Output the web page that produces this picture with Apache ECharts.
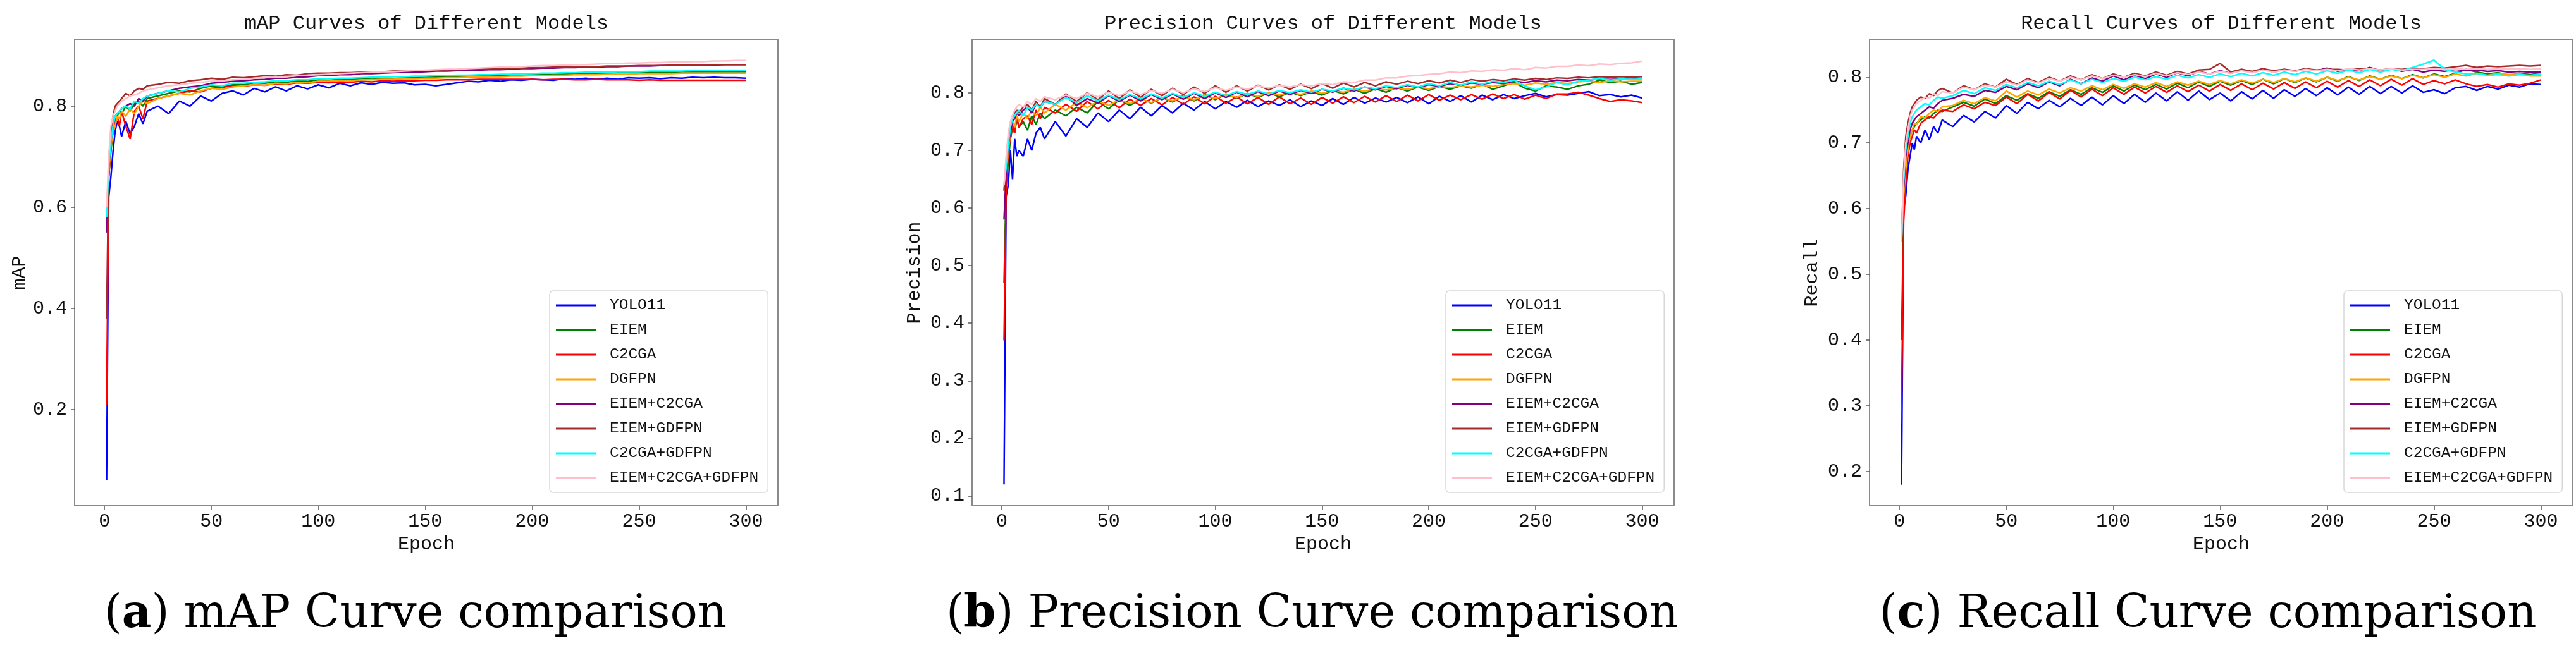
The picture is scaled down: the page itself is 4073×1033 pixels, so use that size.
<!DOCTYPE html>
<html>
<head>
<meta charset="utf-8">
<title>Curves of Different Models</title>
<script src="https://cdn.jsdelivr.net/npm/echarts@6/dist/echarts.min.js"></script>
<style>
    html, body { margin: 0; padding: 0; background: #fff; }
    #main { width: 4073px; height: 1033px; }
</style>
</head>
<body>
<div id="main"></div>
<script>
const epochs = [1, 2, 3, 4, 5, 6, 7, 8, 10, 12, 14, 16, 18, 20,
    25, 30, 35, 40, 45, 50, 55, 60, 65, 70, 75, 80, 85, 90, 95, 100,
    105, 110, 115, 120, 125, 130, 135, 140, 145, 150, 155, 160, 165, 170, 175, 180,
    185, 190, 195, 200, 205, 210, 215, 220, 225, 230, 235, 240, 245, 250, 255, 260,
    265, 270, 275, 280, 285, 290, 295, 300];

const modelNames = ['YOLO11', 'EIEM', 'C2CGA', 'DGFPN', 'EIEM+C2CGA', 'EIEM+GDFPN', 'C2CGA+GDFPN', 'EIEM+C2CGA+GDFPN'];
const modelColors = ['#0000ff', '#008000', '#ff0000', '#ffa500', '#800080', '#a52a2a', '#00ffff', '#ffc0cb'];

const xTicks = [0, 50, 100, 150, 200, 250, 300];
const mapTicks = [0.2, 0.4, 0.6, 0.8];
const precisionTicks = [0.1, 0.2, 0.3, 0.4, 0.5, 0.6, 0.7, 0.8];
const recallTicks = [0.2, 0.3, 0.4, 0.5, 0.6, 0.7, 0.8];

// ---- mAP ----
const mapYOLO11 = [0.06, 0.62, 0.66, 0.71, 0.75, 0.77, 0.76, 0.74, 0.77, 0.745, 0.76, 0.785, 0.765, 0.79,
    0.80, 0.785, 0.81, 0.80, 0.82, 0.81, 0.825, 0.83,
    0.822, 0.835, 0.828, 0.838, 0.83, 0.84, 0.834, 0.842,
    0.836, 0.845, 0.84, 0.846, 0.843, 0.847, 0.845, 0.846,
    0.842, 0.843, 0.840, 0.843, 0.846, 0.849, 0.848, 0.851,
    0.849, 0.852, 0.851, 0.853, 0.852, 0.851, 0.854, 0.853,
    0.855, 0.853, 0.855, 0.853, 0.856, 0.855, 0.856, 0.854,
    0.856, 0.855, 0.857, 0.856, 0.857, 0.856, 0.856, 0.855];
const mapEIEM = [0.56, 0.66, 0.71, 0.75, 0.77, 0.78, 0.79, 0.785, 0.80, 0.79, 0.805, 0.81, 0.80, 0.815,
    0.82, 0.825, 0.83, 0.828, 0.835, 0.84, 0.838, 0.843,
    0.842, 0.846, 0.845, 0.848, 0.847, 0.85, 0.849, 0.852,
    0.851, 0.853, 0.852, 0.854, 0.853, 0.855, 0.854, 0.856,
    0.856, 0.857, 0.857, 0.858, 0.858, 0.859, 0.859, 0.86,
    0.86, 0.861, 0.861, 0.862, 0.862, 0.863, 0.863, 0.864,
    0.864, 0.865, 0.865, 0.866, 0.866, 0.866, 0.867, 0.867,
    0.867, 0.868, 0.868, 0.868, 0.868, 0.868, 0.868, 0.868];
const mapC2CGA = [0.21, 0.66, 0.72, 0.75, 0.77, 0.78, 0.76, 0.79, 0.76, 0.735, 0.79, 0.80, 0.775, 0.81,
    0.815, 0.82, 0.825, 0.83, 0.828, 0.835, 0.837, 0.84,
    0.839, 0.842, 0.841, 0.844, 0.843, 0.846, 0.845, 0.847,
    0.846, 0.848, 0.847, 0.849, 0.848, 0.85, 0.849, 0.85,
    0.85, 0.851, 0.851, 0.852, 0.852, 0.852, 0.853, 0.853,
    0.853, 0.853, 0.853, 0.853, 0.852, 0.853, 0.853, 0.852,
    0.852, 0.853, 0.852, 0.852, 0.852, 0.851, 0.852, 0.851,
    0.851, 0.851, 0.851, 0.851, 0.851, 0.851, 0.851, 0.851];
const mapDGFPN = [0.57, 0.67, 0.72, 0.75, 0.76, 0.78, 0.775, 0.79, 0.78, 0.795, 0.785, 0.80, 0.81, 0.805,
    0.815, 0.82, 0.825, 0.822, 0.83, 0.835, 0.833, 0.838,
    0.84, 0.842, 0.841, 0.845, 0.844, 0.847, 0.846, 0.849,
    0.849, 0.851, 0.85, 0.852, 0.852, 0.853, 0.853, 0.854,
    0.854, 0.855, 0.855, 0.856, 0.856, 0.857, 0.857, 0.858,
    0.858, 0.859, 0.859, 0.86, 0.86, 0.861, 0.861, 0.862,
    0.862, 0.862, 0.863, 0.863, 0.863, 0.864, 0.864, 0.864,
    0.864, 0.865, 0.865, 0.865, 0.865, 0.865, 0.865, 0.865];
const mapEIEM_C2CGA = [0.55, 0.68, 0.73, 0.76, 0.78, 0.785, 0.79, 0.795, 0.80, 0.805, 0.80, 0.815, 0.81, 0.82,
    0.825, 0.83, 0.835, 0.838, 0.84, 0.845, 0.847, 0.849,
    0.85, 0.852, 0.853, 0.855, 0.855, 0.857, 0.858, 0.86,
    0.86, 0.862, 0.862, 0.864, 0.864, 0.865, 0.866, 0.867,
    0.867, 0.868, 0.869, 0.869, 0.87, 0.871, 0.871, 0.872,
    0.872, 0.873, 0.874, 0.874, 0.875, 0.875, 0.876, 0.876,
    0.877, 0.877, 0.878, 0.878, 0.879, 0.879, 0.879, 0.88,
    0.88, 0.88, 0.881, 0.881, 0.881, 0.882, 0.882, 0.882];
const mapEIEM_GDFPN = [0.38, 0.69, 0.75, 0.78, 0.80, 0.805, 0.81, 0.815, 0.825, 0.82, 0.83, 0.835, 0.833, 0.84,
    0.843, 0.847, 0.845, 0.85, 0.852, 0.855, 0.853, 0.857,
    0.856, 0.858, 0.86, 0.859, 0.862, 0.861, 0.864, 0.865,
    0.865, 0.866, 0.866, 0.867, 0.868, 0.868, 0.869, 0.869,
    0.87, 0.87, 0.871, 0.872, 0.872, 0.873, 0.873, 0.874,
    0.874, 0.875, 0.875, 0.876, 0.876, 0.877, 0.877, 0.878,
    0.878, 0.878, 0.879, 0.879, 0.879, 0.88, 0.88, 0.88,
    0.881, 0.881, 0.881, 0.881, 0.882, 0.882, 0.882, 0.882];
const mapC2CGA_GDFPN = [0.58, 0.68, 0.73, 0.76, 0.78, 0.785, 0.79, 0.795, 0.80, 0.795, 0.81, 0.805, 0.815, 0.82,
    0.825, 0.83, 0.828, 0.835, 0.838, 0.842, 0.84, 0.845,
    0.845, 0.847, 0.848, 0.85, 0.85, 0.852, 0.852, 0.854,
    0.854, 0.855, 0.855, 0.856, 0.857, 0.857, 0.858, 0.858,
    0.859, 0.859, 0.86, 0.86, 0.861, 0.861, 0.862, 0.862,
    0.863, 0.863, 0.864, 0.864, 0.865, 0.865, 0.866, 0.866,
    0.867, 0.867, 0.867, 0.868, 0.868, 0.868, 0.869, 0.869,
    0.869, 0.869, 0.87, 0.87, 0.87, 0.87, 0.87, 0.87];
const mapAll = [0.60, 0.70, 0.76, 0.78, 0.79, 0.80, 0.805, 0.81, 0.815, 0.82, 0.822, 0.825, 0.83, 0.832,
    0.836, 0.84, 0.842, 0.845, 0.847, 0.849, 0.85, 0.852,
    0.853, 0.855, 0.856, 0.857, 0.858, 0.86, 0.861, 0.862,
    0.863, 0.864, 0.865, 0.866, 0.867, 0.868, 0.868, 0.869,
    0.87, 0.871, 0.872, 0.873, 0.873, 0.874, 0.875, 0.876,
    0.877, 0.877, 0.878, 0.879, 0.88, 0.88, 0.881, 0.882,
    0.882, 0.883, 0.884, 0.884, 0.885, 0.885, 0.886, 0.886,
    0.887, 0.887, 0.888, 0.888, 0.889, 0.889, 0.89, 0.89];

// ---- Precision ----
const precYOLO11 = [0.12, 0.62, 0.64, 0.70, 0.65, 0.72, 0.69, 0.70, 0.69, 0.72, 0.70, 0.73, 0.74, 0.72,
    0.75, 0.725, 0.755, 0.74, 0.765, 0.75, 0.77, 0.755,
    0.775, 0.76, 0.778, 0.765, 0.782, 0.77, 0.785, 0.772,
    0.785, 0.775, 0.787, 0.776, 0.786, 0.778, 0.788, 0.776,
    0.786, 0.778, 0.79, 0.78, 0.792, 0.782, 0.791, 0.784,
    0.792, 0.783, 0.793, 0.781, 0.794, 0.785, 0.795, 0.784,
    0.796, 0.788, 0.797, 0.79, 0.795, 0.799, 0.793, 0.797,
    0.796, 0.799, 0.802, 0.795, 0.797, 0.793, 0.796, 0.791];
const precEIEM = [0.47, 0.64, 0.68, 0.72, 0.74, 0.73, 0.755, 0.74, 0.75, 0.735, 0.76, 0.745, 0.765, 0.755,
    0.77, 0.76, 0.775, 0.765, 0.785, 0.772, 0.788, 0.778,
    0.79, 0.782, 0.792, 0.784, 0.795, 0.786, 0.797, 0.788,
    0.798, 0.79, 0.799, 0.792, 0.8, 0.793, 0.801, 0.795,
    0.802, 0.796, 0.804, 0.798, 0.806, 0.799, 0.807, 0.801,
    0.809, 0.803, 0.81, 0.804, 0.811, 0.806, 0.812, 0.808,
    0.815, 0.806, 0.812, 0.818, 0.808, 0.803, 0.812, 0.81,
    0.806, 0.812, 0.815, 0.822, 0.818, 0.82, 0.815, 0.818];
const precC2CGA = [0.37, 0.63, 0.70, 0.72, 0.745, 0.73, 0.76, 0.74, 0.755, 0.76, 0.745, 0.77, 0.755, 0.775,
    0.765, 0.78, 0.768, 0.785, 0.772, 0.787, 0.774, 0.789,
    0.778, 0.79, 0.779, 0.792, 0.78, 0.793, 0.781, 0.794,
    0.782, 0.793, 0.781, 0.792, 0.78, 0.793, 0.781, 0.791,
    0.78, 0.792, 0.782, 0.793, 0.783, 0.794, 0.784, 0.795,
    0.785, 0.796, 0.786, 0.797, 0.787, 0.796, 0.788, 0.797,
    0.789, 0.798, 0.79, 0.797, 0.789, 0.796, 0.79, 0.798,
    0.798, 0.801, 0.796, 0.79, 0.785, 0.788, 0.786, 0.783];
const precDGFPN = [0.63, 0.66, 0.70, 0.73, 0.75, 0.74, 0.76, 0.75, 0.765, 0.755, 0.77, 0.76, 0.775, 0.765,
    0.78, 0.77, 0.783, 0.774, 0.786, 0.778, 0.788, 0.781,
    0.79, 0.783, 0.792, 0.786, 0.794, 0.788, 0.796, 0.79,
    0.797, 0.792, 0.799, 0.794, 0.8, 0.796, 0.801, 0.797,
    0.803, 0.799, 0.804, 0.801, 0.806, 0.803, 0.807, 0.805,
    0.808, 0.806, 0.81, 0.807, 0.811, 0.809, 0.812, 0.81,
    0.813, 0.811, 0.814, 0.816, 0.813, 0.817, 0.815, 0.818,
    0.816, 0.819, 0.82, 0.818, 0.821, 0.819, 0.82, 0.82];
const precEIEM_C2CGA = [0.58, 0.66, 0.71, 0.73, 0.75, 0.755, 0.765, 0.76, 0.77, 0.775, 0.765, 0.78, 0.775, 0.785,
    0.78, 0.795, 0.778, 0.79, 0.782, 0.795, 0.785, 0.796,
    0.786, 0.797, 0.788, 0.798, 0.789, 0.799, 0.79, 0.8,
    0.792, 0.801, 0.793, 0.802, 0.795, 0.803, 0.797, 0.804,
    0.799, 0.806, 0.801, 0.808, 0.803, 0.81, 0.805, 0.811,
    0.807, 0.813, 0.809, 0.814, 0.811, 0.816, 0.813, 0.817,
    0.815, 0.818, 0.816, 0.82, 0.818, 0.821, 0.819, 0.822,
    0.821, 0.823, 0.822, 0.824, 0.823, 0.824, 0.823, 0.825];
const precEIEM_GDFPN = [0.63, 0.68, 0.72, 0.745, 0.76, 0.765, 0.77, 0.765, 0.775, 0.78, 0.77, 0.785, 0.775, 0.79,
    0.78, 0.798, 0.785, 0.8, 0.788, 0.803, 0.79, 0.805,
    0.792, 0.806, 0.795, 0.808, 0.797, 0.81, 0.799, 0.812,
    0.801, 0.812, 0.803, 0.813, 0.805, 0.814, 0.806, 0.815,
    0.807, 0.816, 0.808, 0.817, 0.81, 0.818, 0.812, 0.819,
    0.815, 0.82, 0.816, 0.821, 0.817, 0.822, 0.818, 0.823,
    0.82, 0.823, 0.821, 0.824, 0.822, 0.825, 0.823, 0.826,
    0.825, 0.827, 0.826, 0.828, 0.827, 0.828, 0.827, 0.828];
const precC2CGA_GDFPN = [0.64, 0.67, 0.71, 0.74, 0.755, 0.76, 0.765, 0.77, 0.76, 0.775, 0.77, 0.78, 0.775, 0.785,
    0.78, 0.792, 0.783, 0.795, 0.786, 0.796, 0.788, 0.797,
    0.79, 0.798, 0.791, 0.799, 0.792, 0.8, 0.794, 0.801,
    0.795, 0.802, 0.797, 0.803, 0.798, 0.804, 0.8, 0.805,
    0.801, 0.806, 0.803, 0.808, 0.805, 0.81, 0.807, 0.812,
    0.809, 0.814, 0.81, 0.816, 0.812, 0.818, 0.813, 0.819,
    0.815, 0.82, 0.818, 0.822, 0.812, 0.805, 0.81, 0.818,
    0.814, 0.82, 0.822, 0.825, 0.822, 0.824, 0.823, 0.824];
const precAll = [0.64, 0.69, 0.73, 0.75, 0.76, 0.77, 0.775, 0.78, 0.775, 0.785, 0.78, 0.79, 0.785, 0.793,
    0.788, 0.796, 0.79, 0.799, 0.793, 0.801, 0.795, 0.803,
    0.797, 0.804, 0.799, 0.806, 0.8, 0.807, 0.802, 0.809,
    0.804, 0.81, 0.806, 0.812, 0.808, 0.813, 0.81, 0.814,
    0.812, 0.816, 0.814, 0.819, 0.818, 0.822, 0.822, 0.826,
    0.826, 0.829, 0.83, 0.832, 0.833, 0.836, 0.835, 0.838,
    0.837, 0.84, 0.839, 0.842, 0.84, 0.844, 0.843, 0.846,
    0.846, 0.848, 0.847, 0.85, 0.849, 0.851, 0.852, 0.855];

// ---- Recall ----
const recYOLO11 = [0.18, 0.60, 0.62, 0.66, 0.68, 0.70, 0.69, 0.71, 0.70, 0.72, 0.705, 0.725, 0.715, 0.735,
    0.725, 0.742, 0.732, 0.748, 0.738, 0.757, 0.745, 0.762,
    0.752, 0.765, 0.755, 0.768, 0.757, 0.77, 0.758, 0.772,
    0.76, 0.774, 0.762, 0.776, 0.764, 0.778, 0.765, 0.779,
    0.766, 0.776, 0.764, 0.778, 0.767, 0.78, 0.768, 0.781,
    0.771, 0.783, 0.772, 0.784, 0.773, 0.785, 0.774, 0.786,
    0.775, 0.786, 0.776, 0.787, 0.777, 0.781, 0.775, 0.784,
    0.786, 0.78, 0.786, 0.782, 0.788, 0.785, 0.79, 0.789];
const recEIEM = [0.40, 0.60, 0.65, 0.69, 0.71, 0.72, 0.725, 0.73, 0.735, 0.74, 0.738, 0.745, 0.75, 0.748,
    0.755, 0.762, 0.756, 0.767, 0.76, 0.772, 0.765, 0.775,
    0.768, 0.778, 0.771, 0.781, 0.774, 0.784, 0.777, 0.787,
    0.779, 0.788, 0.781, 0.789, 0.782, 0.791, 0.784, 0.793,
    0.786, 0.794, 0.788, 0.795, 0.789, 0.797, 0.79, 0.798,
    0.792, 0.799, 0.793, 0.8, 0.794, 0.801, 0.795, 0.802,
    0.797, 0.803, 0.798, 0.804, 0.799, 0.805, 0.801, 0.806,
    0.812, 0.808, 0.805, 0.807, 0.803, 0.806, 0.804, 0.806];
const recC2CGA = [0.29, 0.58, 0.64, 0.68, 0.70, 0.71, 0.72, 0.715, 0.73, 0.735, 0.74, 0.738, 0.745, 0.75,
    0.748, 0.758, 0.752, 0.762, 0.757, 0.77, 0.76, 0.774,
    0.764, 0.777, 0.767, 0.78, 0.77, 0.782, 0.772, 0.784,
    0.774, 0.785, 0.776, 0.786, 0.777, 0.787, 0.778, 0.788,
    0.779, 0.789, 0.78, 0.79, 0.781, 0.791, 0.782, 0.792,
    0.783, 0.793, 0.784, 0.794, 0.785, 0.795, 0.786, 0.796,
    0.787, 0.797, 0.788, 0.798, 0.789, 0.795, 0.79, 0.796,
    0.79, 0.786, 0.789, 0.785, 0.79, 0.788, 0.791, 0.796];
const recDGFPN = [0.55, 0.62, 0.66, 0.69, 0.71, 0.72, 0.73, 0.728, 0.74, 0.738, 0.745, 0.75, 0.748, 0.755,
    0.757, 0.765, 0.76, 0.769, 0.764, 0.779, 0.77, 0.779,
    0.773, 0.782, 0.776, 0.784, 0.779, 0.787, 0.781, 0.789,
    0.783, 0.79, 0.785, 0.792, 0.786, 0.793, 0.788, 0.794,
    0.789, 0.795, 0.79, 0.796, 0.791, 0.797, 0.792, 0.798,
    0.793, 0.799, 0.794, 0.8, 0.795, 0.8, 0.796, 0.801,
    0.797, 0.802, 0.798, 0.803, 0.799, 0.804, 0.8, 0.805,
    0.802, 0.806, 0.803, 0.806, 0.804, 0.805, 0.802, 0.802];
const recEIEM_C2CGA = [0.55, 0.63, 0.68, 0.70, 0.72, 0.73, 0.735, 0.74, 0.745, 0.75, 0.755, 0.753, 0.76, 0.765,
    0.768, 0.774, 0.771, 0.78, 0.777, 0.786, 0.781, 0.79,
    0.784, 0.793, 0.787, 0.797, 0.79, 0.799, 0.794, 0.802,
    0.796, 0.803, 0.798, 0.805, 0.8, 0.807, 0.802, 0.809,
    0.805, 0.81, 0.806, 0.812, 0.807, 0.813, 0.808, 0.812,
    0.809, 0.813, 0.81, 0.814, 0.809, 0.812, 0.81, 0.815,
    0.81, 0.813, 0.809, 0.812, 0.808, 0.811, 0.809, 0.812,
    0.81, 0.811, 0.809, 0.81, 0.808, 0.809, 0.808, 0.808];
const recEIEM_GDFPN = [0.55, 0.66, 0.71, 0.73, 0.745, 0.755, 0.76, 0.765, 0.77, 0.768, 0.775, 0.772, 0.78, 0.783,
    0.776, 0.787, 0.781, 0.79, 0.785, 0.797, 0.789, 0.798,
    0.792, 0.8, 0.794, 0.802, 0.796, 0.804, 0.798, 0.805,
    0.8, 0.806, 0.802, 0.808, 0.803, 0.809, 0.805, 0.811,
    0.812, 0.821, 0.808, 0.812, 0.809, 0.813, 0.81, 0.812,
    0.81, 0.813, 0.811, 0.812, 0.812, 0.811, 0.813, 0.812,
    0.811, 0.813, 0.812, 0.814, 0.813, 0.815, 0.814, 0.816,
    0.818, 0.815, 0.817, 0.816, 0.817, 0.818, 0.817, 0.818];
const recC2CGA_GDFPN = [0.55, 0.64, 0.69, 0.71, 0.73, 0.74, 0.745, 0.75, 0.755, 0.76, 0.758, 0.765, 0.77, 0.768,
    0.772, 0.78, 0.775, 0.784, 0.78, 0.789, 0.784, 0.792,
    0.787, 0.794, 0.789, 0.796, 0.79, 0.797, 0.792, 0.798,
    0.794, 0.8, 0.796, 0.801, 0.797, 0.803, 0.799, 0.804,
    0.8, 0.805, 0.801, 0.806, 0.802, 0.807, 0.803, 0.808,
    0.804, 0.809, 0.805, 0.81, 0.806, 0.811, 0.807, 0.812,
    0.808, 0.812, 0.81, 0.815, 0.82, 0.826, 0.812, 0.808,
    0.805, 0.806, 0.803, 0.804, 0.802, 0.804, 0.803, 0.805];
const recAll = [0.55, 0.65, 0.70, 0.72, 0.74, 0.75, 0.755, 0.76, 0.765, 0.77, 0.768, 0.775, 0.772, 0.778,
    0.776, 0.785, 0.781, 0.788, 0.785, 0.793, 0.788, 0.796,
    0.791, 0.798, 0.794, 0.8, 0.796, 0.802, 0.798, 0.803,
    0.8, 0.804, 0.801, 0.806, 0.802, 0.807, 0.804, 0.808,
    0.805, 0.809, 0.806, 0.81, 0.807, 0.811, 0.808, 0.811,
    0.809, 0.812, 0.81, 0.812, 0.81, 0.813, 0.811, 0.813,
    0.811, 0.813, 0.811, 0.812, 0.812, 0.813, 0.812, 0.813,
    0.812, 0.813, 0.812, 0.813, 0.813, 0.813, 0.812, 0.813];

const mapSeries = [mapYOLO11, mapEIEM, mapC2CGA, mapDGFPN, mapEIEM_C2CGA, mapEIEM_GDFPN, mapC2CGA_GDFPN, mapAll];
const precSeries = [precYOLO11, precEIEM, precC2CGA, precDGFPN, precEIEM_C2CGA, precEIEM_GDFPN, precC2CGA_GDFPN, precAll];
const recSeries = [recYOLO11, recEIEM, recC2CGA, recDGFPN, recEIEM_C2CGA, recEIEM_GDFPN, recC2CGA_GDFPN, recAll];

const monoFont = '"Liberation Mono", "DejaVu Sans Mono", monospace';
const captionFont = '"DejaVu Serif", "Liberation Serif", serif';

// panel layout: grid box, legend box, caption centre
const panels = [
    {name: 'mAP', title: 'mAP Curves of Different Models', caption: ['a', ') mAP Curve comparison'],
        left: 118, width: 1112, legendLeft: 869, captionX: 657, nameGap: 72,
        yMin: 0.01, yMax: 0.931, yTicks: mapTicks, values: mapSeries},
    {name: 'Precision', title: 'Precision Curves of Different Models', caption: ['b', ') Precision Curve comparison'],
        left: 1537, width: 1110, legendLeft: 2286, captionX: 2075, nameGap: 76,
        yMin: 0.083, yMax: 0.892, yTicks: precisionTicks, values: precSeries},
    {name: 'Recall', title: 'Recall Curves of Different Models', caption: ['c', ') Recall Curve comparison'],
        left: 2956, width: 1112, legendLeft: 3706, captionX: 3491, nameGap: 76,
        yMin: 0.148, yMax: 0.857, yTicks: recallTicks, values: recSeries}
];

let option = {
    animation: false,
    backgroundColor: '#fff',
    title: [],
    legend: [],
    grid: [],
    xAxis: [],
    yAxis: [],
    series: []
};

panels.forEach(function (p, k) {
    option.title.push({
        text: p.title,
        left: p.left + p.width / 2,
        textAlign: 'center',
        top: 22,
        padding: 0,
        textStyle: {fontFamily: monoFont, fontSize: 32, fontWeight: 'normal', color: '#111'}
    });
    option.title.push({
        text: '{p|(}{b|' + p.caption[0] + '}{p|' + p.caption[1] + '}',
        left: p.captionX,
        textAlign: 'center',
        top: 928,
        padding: 0,
        textStyle: {
            fontWeight: 'normal',
            rich: {
                p: {fontFamily: captionFont, fontSize: 72, fontWeight: 'normal', color: '#000', lineHeight: 90},
                b: {fontFamily: captionFont, fontSize: 72, fontWeight: 'bold', color: '#000', lineHeight: 90}
            }
        }
    });
    option.grid.push({
        left: p.left, top: 63, width: p.width, height: 737,
        show: true, borderColor: '#8a8a8a', borderWidth: 2, backgroundColor: '#fff'
    });
    option.xAxis.push({
        type: 'value', gridIndex: k, min: -13.95, max: 314.95,
        name: 'Epoch', nameLocation: 'middle', nameGap: 46,
        nameTextStyle: {fontFamily: monoFont, fontSize: 30, color: '#111'},
        axisLine: {show: true, onZero: false, lineStyle: {color: '#8a8a8a', width: 2}},
        axisTick: {show: true, length: 6, customValues: xTicks, lineStyle: {color: '#555', width: 1.5}},
        axisLabel: {customValues: xTicks, margin: 10, fontFamily: monoFont, fontSize: 30, color: '#111'},
        splitLine: {show: false}
    });
    option.yAxis.push({
        type: 'value', gridIndex: k, min: p.yMin, max: p.yMax,
        name: p.name, nameLocation: 'middle', nameGap: p.nameGap,
        nameTextStyle: {fontFamily: monoFont, fontSize: 30, color: '#111'},
        axisLine: {show: true, onZero: false, lineStyle: {color: '#8a8a8a', width: 2}},
        axisTick: {show: true, length: 6, customValues: p.yTicks, lineStyle: {color: '#555', width: 1.5}},
        axisLabel: {
            customValues: p.yTicks, margin: 12, fontFamily: monoFont, fontSize: 30, color: '#111',
            formatter: function (v) { return v.toFixed(1); }
        },
        splitLine: {show: false}
    });
    option.legend.push({
        data: modelNames,
        orient: 'vertical',
        left: p.legendLeft,
        top: 460,
        padding: [10, 15, 10, 10],
        icon: 'rect',
        itemWidth: 63,
        itemHeight: 3,
        itemGap: 13,
        backgroundColor: 'rgba(255,255,255,0.85)',
        borderColor: '#d8d8d8',
        borderWidth: 1.5,
        borderRadius: 6,
        selectedMode: false,
        textStyle: {fontFamily: monoFont, fontSize: 24.5, lineHeight: 26, color: '#111', padding: [0, 0, 0, 17]}
    });
    p.values.forEach(function (vals, i) {
        option.series.push({
            name: modelNames[i],
            type: 'line',
            xAxisIndex: k,
            yAxisIndex: k,
            showSymbol: false,
            symbol: 'none',
            color: modelColors[i],
            lineStyle: {width: 2.5, color: modelColors[i]},
            data: epochs.map(function (e, j) { return [e, vals[j]]; })
        });
    });
});

var myChart = echarts.init(document.getElementById('main'));
myChart.setOption(option);
</script>
</body>
</html>
